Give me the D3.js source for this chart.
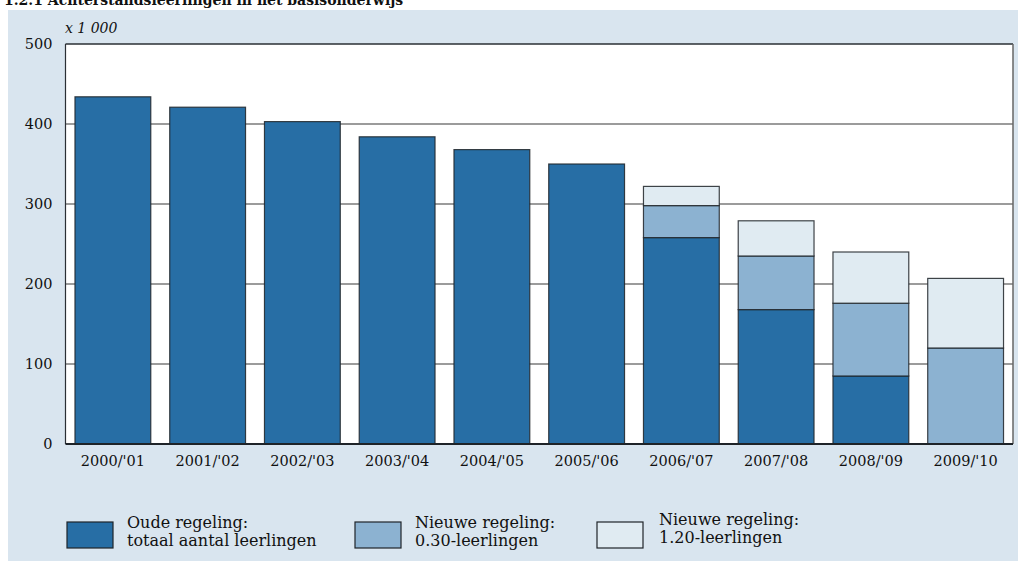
<!DOCTYPE html>
<html><head><meta charset="utf-8">
<script src="https://cdn.jsdelivr.net/npm/d3@7"></script>
<style>body{margin:0;background:#fff}svg{display:block}text{font-family:"DejaVu Serif","Liberation Serif",serif;fill:#111}</style>
</head><body><svg id="c" width="1018" height="561"></svg>
<script>
const categories = ["2000/'01","2001/'02","2002/'03","2003/'04","2004/'05","2005/'06","2006/'07","2007/'08","2008/'09","2009/'10"];
const oudeRegeling = [434,421,403,384,368,350,258,168,85,0];
const nieuw030 = [0,0,0,0,0,0,40,67,91,120];
const nieuw120 = [0,0,0,0,0,0,24,44,64,87];
const yTicks = [0,100,200,300,400,500];
const seriesNames = ["Oude regeling:|totaal aantal leerlingen","Nieuwe regeling:|0.30-leerlingen","Nieuwe regeling:|1.20-leerlingen"];
const colors = ["#276ea5","#8cb2d1","#e0ebf2"];

const svg = d3.select("#c");
svg.append("rect").attr("x",8).attr("y",10).attr("width",1010).attr("height",551).attr("fill","#d9e5ef");
svg.append("text").attr("x",4).attr("y",5).attr("font-size",14).attr("font-weight","bold").text("1.2.1  Achterstandsleerlingen in het basisonderwijs");

const L=65.5,R=1013,T=44,B=444;
const x = d3.scaleBand().domain(categories).range([L,R]).paddingInner(0.2).paddingOuter(0.1);
const y = d3.scaleLinear().domain([0,500]).range([B,T]);

svg.append("rect").attr("x",L).attr("y",T).attr("width",R-L).attr("height",B-T).attr("fill","#fff");
svg.append("g").selectAll("line").data(yTicks.filter(d=>d>0&&d<500)).join("line")
  .attr("x1",L).attr("x2",R).attr("y1",d=>y(d)).attr("y2",d=>y(d)).attr("stroke","#7a7a7a").attr("stroke-width",1.3);
svg.append("line").attr("x1",L).attr("x2",R).attr("y1",T).attr("y2",T).attr("stroke","#2a2f35").attr("stroke-width",1.6);
svg.append("line").attr("x1",L).attr("x2",L).attr("y1",T).attr("y2",B).attr("stroke","#2a2f35").attr("stroke-width",1.2);
svg.append("line").attr("x1",R).attr("x2",R).attr("y1",T).attr("y2",B).attr("stroke","#666").attr("stroke-width",1.5);

const data = categories.map((c,i)=>({cat:c,a:oudeRegeling[i],b:nieuw030[i],c:nieuw120[i]}));
const stack = d3.stack().keys(["a","b","c"])(data);
stack.forEach((s,si)=>{
  svg.append("g").selectAll("rect").data(s.filter(d=>d[1]-d[0]>0)).join("rect")
    .attr("x",d=>x(d.data.cat)).attr("width",x.bandwidth())
    .attr("y",d=>y(d[1])).attr("height",d=>y(d[0])-y(d[1]))
    .attr("fill",colors[si]).attr("stroke","#1e2328").attr("stroke-opacity",0.85).attr("stroke-width",1.2);
});
svg.append("line").attr("x1",L).attr("x2",R).attr("y1",B).attr("y2",B).attr("stroke","#1e2328").attr("stroke-width",2);

const yAxis = d3.axisLeft(y).tickValues(yTicks).tickSize(0).tickPadding(13);
const gy = svg.append("g").attr("transform",`translate(${L},0)`).call(yAxis);
gy.select(".domain").remove();
gy.selectAll("text").attr("font-size",14.5).attr("font-family","DejaVu Serif, serif").attr("fill","#111");
const xAxis = d3.axisBottom(x).tickSize(0).tickPadding(12);
const gx = svg.append("g").attr("transform",`translate(0,${B})`).call(xAxis);
gx.select(".domain").remove();
gx.selectAll("text").attr("font-size",14.5).attr("font-family","DejaVu Serif, serif").attr("fill","#111");

svg.append("text").attr("x",65).attr("y",33).attr("font-size",14).attr("font-style","italic").text("x 1 000");

const legX=[67,355,597];
seriesNames.forEach((n,i)=>{
  const dy = i===2?-3:0;
  const g = svg.append("g").attr("transform",`translate(${legX[i]},522)`);
  g.append("rect").attr("x",0).attr("y",0).attr("width",46).attr("height",26).attr("fill",colors[i]).attr("stroke","#1e2328").attr("stroke-width",1.2);
  const parts=n.split("|");
  const tx = i===2?62:60;
  g.append("text").attr("x",tx).attr("y",6+dy).attr("font-size",16).text(parts[0]);
  g.append("text").attr("x",tx).attr("y",24+dy).attr("font-size",16).text(parts[1]);
});
</script></body></html>
